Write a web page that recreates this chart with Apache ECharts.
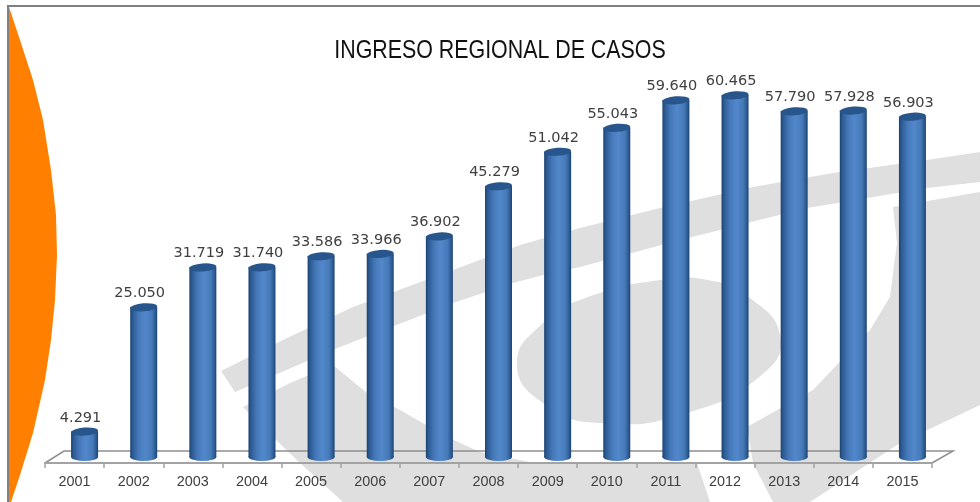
<!DOCTYPE html>
<html>
<head>
<meta charset="utf-8">
<title>Ingreso regional de casos</title>
<script src="https://cdn.jsdelivr.net/npm/echarts@6/dist/echarts.min.js"></script>
<style>
  html, body { margin: 0; padding: 0; background: #fff; }
  #chart { width: 980px; height: 502px; }
</style>
</head>
<body>
<div id="chart"></div>
<script>
var years = ['2001', '2002', '2003', '2004', '2005', '2006', '2007', '2008', '2009', '2010', '2011', '2012', '2013', '2014', '2015'];
var cases = [4291, 25050, 31719, 31740, 33586, 33966, 36902, 45279, 51042, 55043, 59640, 60465, 57790, 57928, 56903];

var WATERMARK = '#dfdfdf';
var ORANGE = '#ff8000';
var FRAME = '#808080';
var FLOOR = '#a3a3a3';

// 12040 -> thousands with a dot, as in the original
function dotted(v) {
    return String(v).replace(/\B(?=(\d{3})+$)/g, '.');
}

function shape(points, fill, smooth) {
    return { type: 'polygon', z: -10, silent: true, shape: { points: points, smooth: smooth || 0 }, style: { fill: fill } };
}

// background logo, traced by hand
var background = [
    // upper swoosh
    shape([[221, 371], [287, 338], [353, 307], [453, 270], [520, 245], [580, 228], [660, 208], [753, 187], [833, 173], [927, 160], [980, 152],
           [980, 182], [927, 188], [807, 208], [680, 240], [580, 267], [543, 275], [513, 283], [453, 303], [340, 347], [235, 392]], WATERMARK),
    // lower sweep
    shape([[243, 407], [290, 383], [333, 365], [367, 393], [400, 410], [447, 437], [480, 452], [530, 462], [600, 464], [697, 463], [710, 502],
           [343, 502], [300, 463], [273, 437]], WATERMARK),
    // oval
    shape([[517, 363], [543, 323], [580, 300], [660, 280], [713, 281], [750, 298], [780, 335], [765, 372],
           [690, 412], [600, 423], [543, 403]], WATERMARK, 0.5),
    // right sweep
    shape([[893, 207], [980, 192], [980, 405], [900, 443], [810, 502], [773, 502], [753, 463], [747, 427], [813, 390], [870, 330], [890, 297], [897, 243]], WATERMARK),
    // orange edge
    shape([[9, 7], [20, 40], [33, 80], [43, 120], [51, 170], [56, 215], [57, 255], [55, 300], [51, 340], [45, 380], [33, 433], [20, 475], [11, 502], [9, 502]], ORANGE),
    // frame
    { type: 'rect', z: -5, silent: true, shape: { x: 7, y: 5, width: 973, height: 2 }, style: { fill: FRAME } },
    { type: 'rect', z: -5, silent: true, shape: { x: 7, y: 5, width: 2, height: 497 }, style: { fill: FRAME } },
    // back of the floor
    { type: 'polyline', z: -4, silent: true, shape: { points: [[45, 463], [64, 451], [953, 451], [932, 463]] },
      style: { stroke: '#8f8f8f', lineWidth: 1.5, fill: 'none' } },
    // title, squeezed because no narrow face is installed
    { type: 'text', z: 10, silent: true, x: 500, y: 51, scaleX: 0.855, originX: 0, originY: 0,
      style: { text: 'INGRESO REGIONAL DE CASOS', x: 0, y: 0, align: 'center', verticalAlign: 'middle',
               font: '25px "Liberation Sans"', fill: '#111' } }
];

var bodyFill = new echarts.graphic.LinearGradient(0, 0, 1, 0, [
    { offset: 0, color: '#1c4272' },
    { offset: 0.1, color: '#2d5c95' },
    { offset: 0.3, color: '#4578b8' },
    { offset: 0.55, color: '#5288cb' },
    { offset: 0.8, color: '#467ab8' },
    { offset: 0.92, color: '#2f5e96' },
    { offset: 1, color: '#1c4272' }
]);

var chart = echarts.init(document.getElementById('chart'));
chart.setOption({
    animation: false,
    backgroundColor: '#fff',
    graphic: background,
    // bars stand on the floor, about 10px right of their labels
    grid: [
        { left: 55, width: 887, top: 38, bottom: 45 },
        { left: 45, width: 887, top: 38, bottom: 39 }
    ],
    xAxis: [
        { type: 'category', gridIndex: 0, data: years, show: false },
        {
            type: 'category',
            gridIndex: 1,
            data: years,
            axisLine: { lineStyle: { color: FLOOR, width: 2 } },
            axisTick: { show: true, length: 5, lineStyle: { color: FLOOR, width: 1.5 } },
            axisLabel: { margin: 12, fontFamily: 'Liberation Sans', fontSize: 14.4, color: '#404040', interval: 0 }
        }
    ],
    yAxis: [
        { type: 'value', gridIndex: 0, min: 0, max: 70000, show: false },
        { type: 'value', gridIndex: 1, min: 0, max: 70000, show: false }
    ],
    series: [
        {
            type: 'pictorialBar',
            name: 'base',
            xAxisIndex: 0, yAxisIndex: 0,
            data: cases,
            symbol: 'circle',
            symbolSize: [27, 8],
            symbolPosition: 'start',
            symbolOffset: [0, '50%'],
            itemStyle: { color: bodyFill },
            z: 2
        },
        {
            type: 'bar',
            name: 'Casos',
            xAxisIndex: 0, yAxisIndex: 0,
            data: cases,
            barWidth: 27,
            itemStyle: { color: bodyFill },
            label: {
                show: true,
                position: 'top',
                distance: 6,
                offset: [-4, 0],
                fontFamily: 'DejaVu Sans',
                fontSize: 14.5,
                color: '#404040',
                formatter: function (p) { return dotted(p.value); }
            },
            z: 3
        },
        {
            type: 'pictorialBar',
            name: 'top',
            xAxisIndex: 0, yAxisIndex: 0,
            data: cases,
            symbol: 'circle',
            symbolSize: [27, 8],
            symbolPosition: 'end',
            symbolOffset: [0, '-50%'],
            symbolRotate: 4,
            itemStyle: { color: '#28568c', borderColor: '#1c4272', borderWidth: 1 },
            z: 4
        }
    ]
});
</script>
</body>
</html>
